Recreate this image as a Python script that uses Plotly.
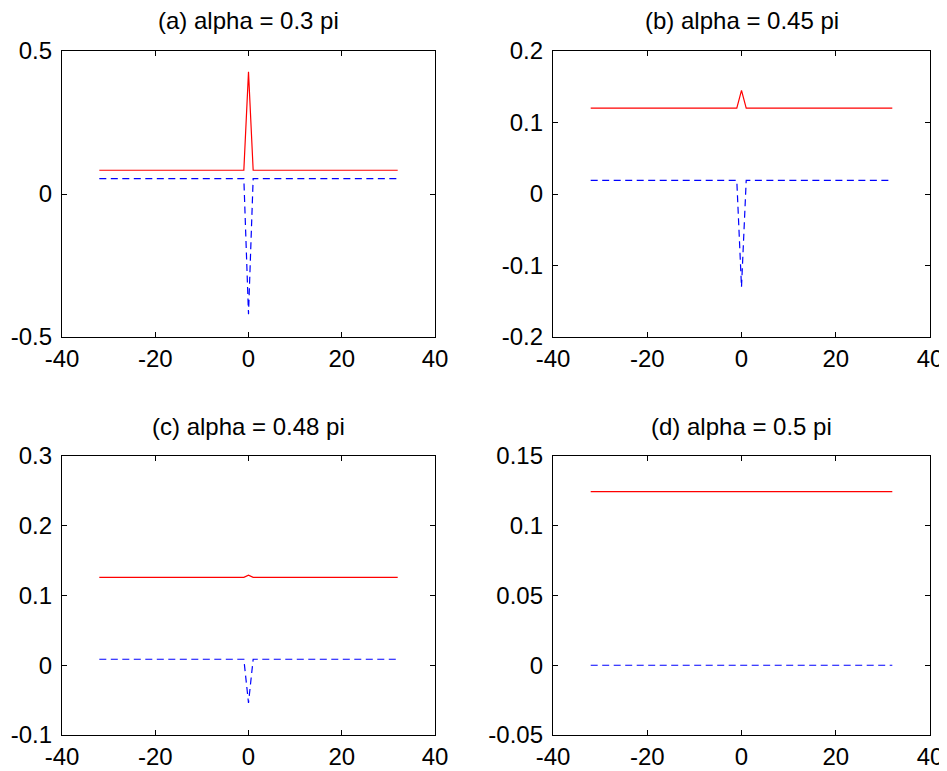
import plotly.graph_objects as go

# ---- data ----
x_pts = [-32, -1, 0, 1, 32]

titles = ["(a) alpha = 0.3 pi", "(b) alpha = 0.45 pi",
          "(c) alpha = 0.48 pi", "(d) alpha = 0.5 pi"]

red_a = [0.083, 0.083, 0.427, 0.083, 0.083]
blue_a = [0.054, 0.054, -0.42, 0.054, 0.054]

red_b = [0.120, 0.120, 0.145, 0.120, 0.120]
blue_b = [0.019, 0.019, -0.130, 0.019, 0.019]

red_c = [0.126, 0.126, 0.129, 0.126, 0.126]
blue_c = [0.0086, 0.0086, -0.054, 0.0086, 0.0086]

red_d = [0.1245, 0.1245, 0.1245, 0.1245, 0.1245]
blue_d = [0.0, 0.0, 0.0, 0.0, 0.0]

x_ticks = [-40, -20, 0, 20, 40]
y_ticks_a = [-0.5, 0, 0.5]
y_ticks_b = [-0.2, -0.1, 0, 0.1, 0.2]
y_ticks_c = [-0.1, 0, 0.1, 0.2, 0.3]
y_ticks_d = [-0.05, 0, 0.05, 0.1, 0.15]
y_tick_text_a = ["-0.5", "0", "0.5"]
y_tick_text_b = ["-0.2", "-0.1", "0", "0.1", "0.2"]
y_tick_text_c = ["-0.1", "0", "0.1", "0.2", "0.3"]
y_tick_text_d = ["-0.05", "0", "0.05", "0.1", "0.15"]

# ---- layout geometry ----
OFF = 8                      # page body margin
W, H = 947 - OFF, 771 - OFF
FONT = "Liberation Sans, Arial, Helvetica, sans-serif"
FS = 24

# plot-area rectangles in screen pixels (left, right), (top, bottom)
panels = [
    dict(red=red_a, blue=blue_a, yt=y_ticks_a, ytt=y_tick_text_a, xd=(62, 435), yd=(51, 337)),
    dict(red=red_b, blue=blue_b, yt=y_ticks_b, ytt=y_tick_text_b, xd=(553, 930), yd=(51, 337)),
    dict(red=red_c, blue=blue_c, yt=y_ticks_c, ytt=y_tick_text_c, xd=(62, 435), yd=(456, 735)),
    dict(red=red_d, blue=blue_d, yt=y_ticks_d, ytt=y_tick_text_d, xd=(553, 930), yd=(456, 735)),
]

fig = go.Figure()
layout = {}
annotations = []
for i, p in enumerate(panels):
    n = "" if i == 0 else str(i + 1)
    xa, ya = "x" + n, "y" + n
    fig.add_trace(go.Scatter(x=x_pts, y=p["red"], mode="lines", xaxis=xa, yaxis=ya,
                             line=dict(color="#ff0000", width=1.2), showlegend=False))
    fig.add_trace(go.Scatter(x=x_pts, y=p["blue"], mode="lines", xaxis=xa, yaxis=ya,
                             line=dict(color="#0000ff", width=1.2, dash="7px,4.5px"),
                             showlegend=False))
    x0, x1 = [v - OFF for v in p["xd"]]
    y0, y1 = [v - OFF for v in p["yd"]]
    common = dict(showline=True, linecolor="black", linewidth=1.3, mirror="ticks",
                  ticks="inside", ticklen=5, tickwidth=1, tickcolor="black",
                  showgrid=False, zeroline=False, automargin=False,
                  tickfont=dict(family=FONT, size=FS, color="black"))
    layout["xaxis" + n] = dict(common, domain=[x0 / W, x1 / W], range=[-40, 40],
                               tickvals=x_ticks, ticktext=[str(v) for v in x_ticks],
                               anchor=ya)
    layout["yaxis" + n] = dict(common, domain=[1 - y1 / H, 1 - y0 / H],
                               range=[p["yt"][0], p["yt"][-1]],
                               tickvals=p["yt"], ticktext=p["ytt"], anchor=xa,
                               ticklabelstandoff=4)
    annotations.append(dict(text=titles[i], x=(x0 + x1) / 2 / W, y=1 - (y0 - 30) / H,
                            xref="paper", yref="paper", showarrow=False,
                            xanchor="center", yanchor="middle",
                            font=dict(family=FONT, size=FS, color="black")))

fig.update_layout(width=W, height=H, margin=dict(l=0, r=0, t=0, b=0),
                  paper_bgcolor="white", plot_bgcolor="white",
                  annotations=annotations, **layout)
fig.write_html("out.html")
